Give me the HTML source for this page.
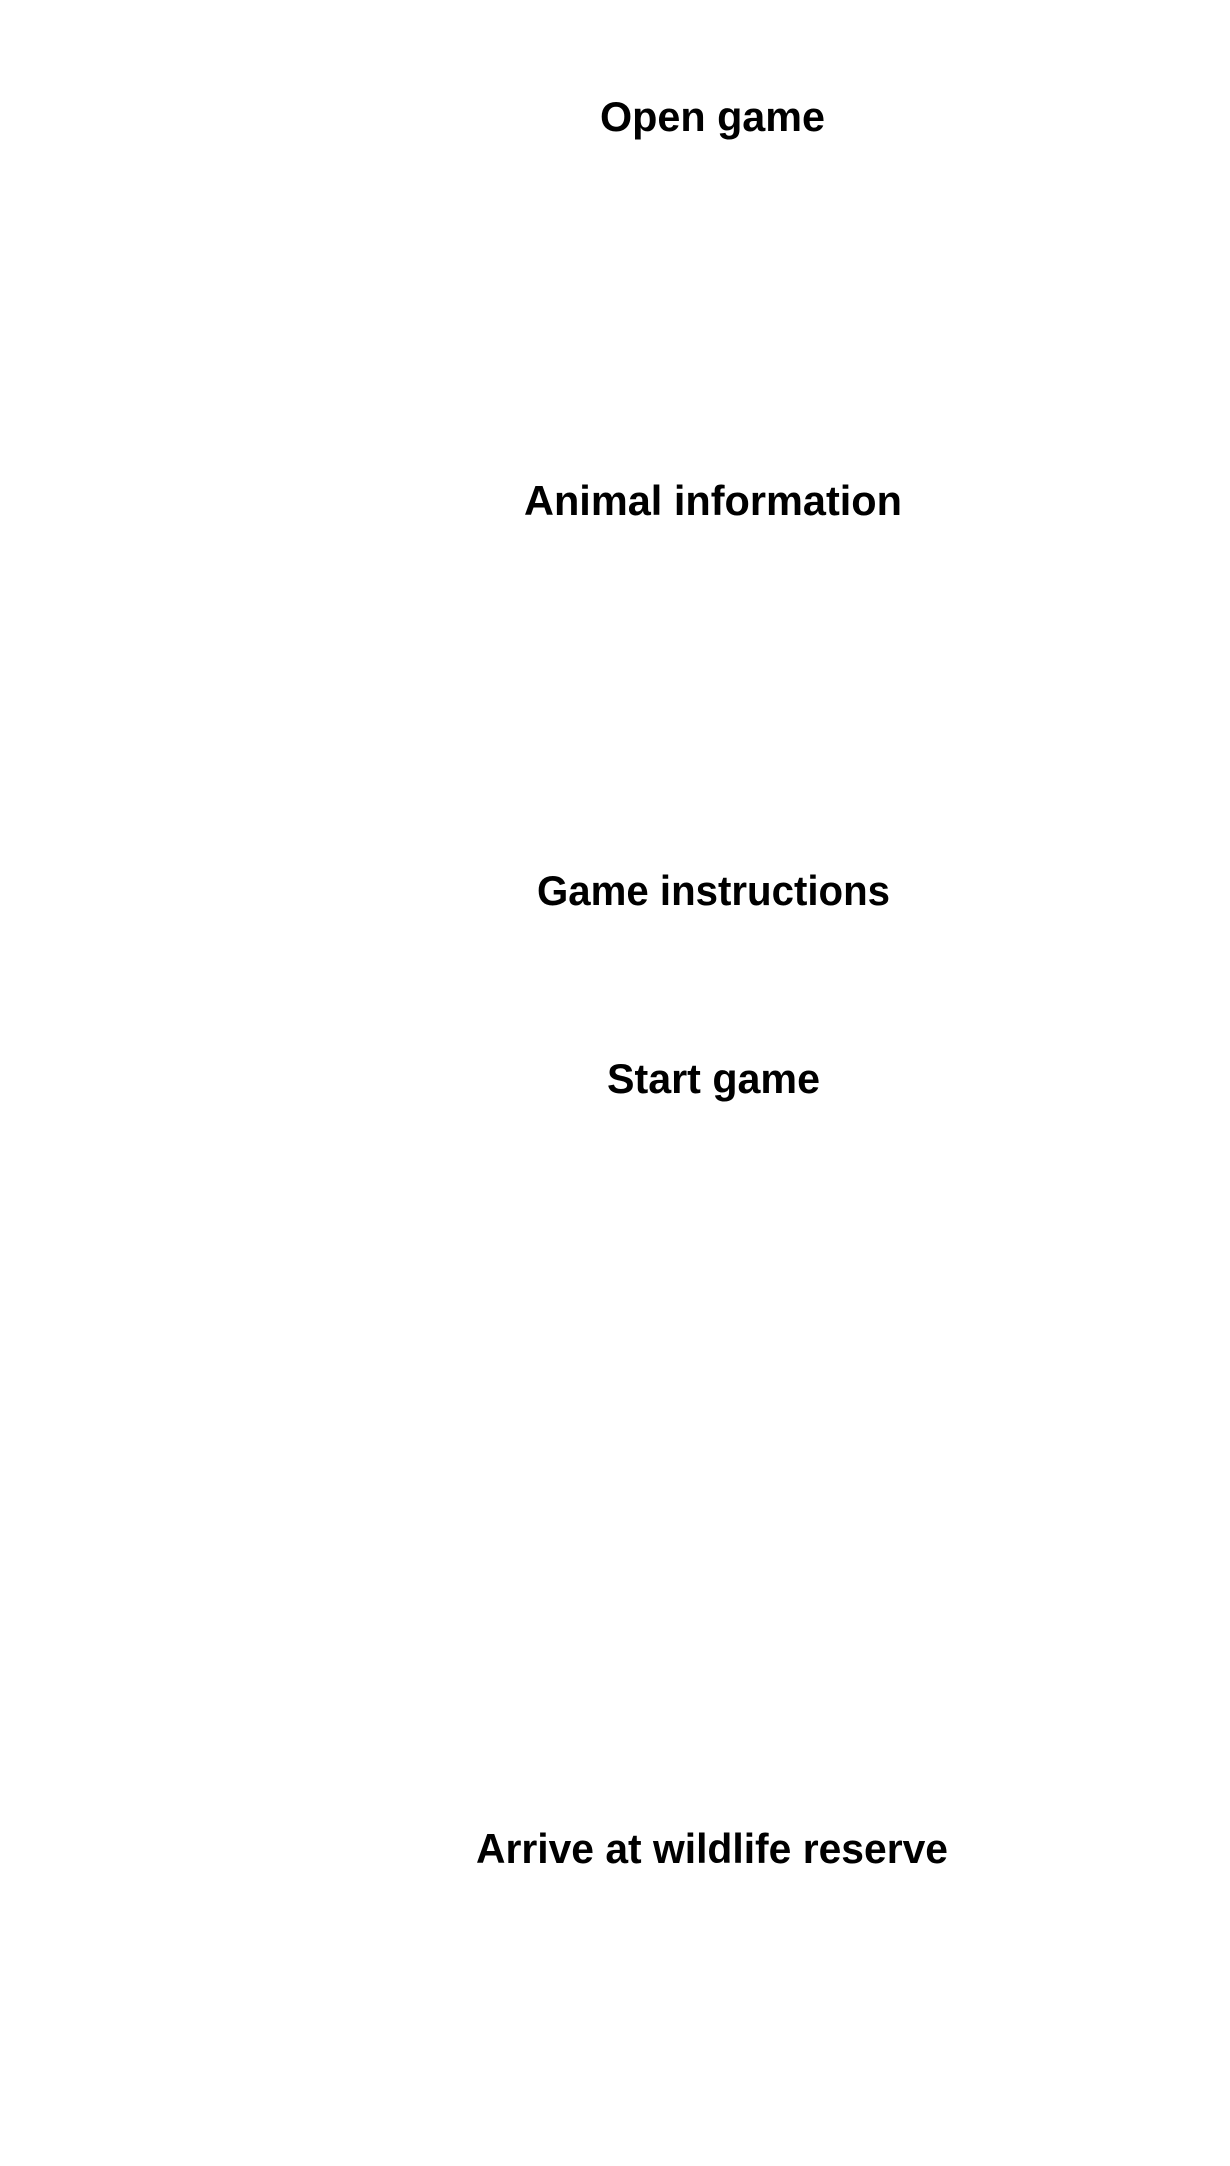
<!DOCTYPE html>
<html><head><meta charset="utf-8"><style>
html,body{margin:0;padding:0;background:#fff;}
svg{display:block;}
text{font-family:"Liberation Sans",sans-serif;font-weight:bold;font-size:42px;fill:#000;}
</style></head><body>
<svg width="1230" height="2166" viewBox="0 0 1230 2166" xmlns="http://www.w3.org/2000/svg">
<rect width="1230" height="2166" fill="#fff"/>
<text x="600" y="131" textLength="225" lengthAdjust="spacingAndGlyphs">Open game</text>
<text x="524" y="515" textLength="378" lengthAdjust="spacingAndGlyphs">Animal information</text>
<text x="537" y="905" textLength="353" lengthAdjust="spacingAndGlyphs">Game instructions</text>
<text x="607" y="1093" textLength="213" lengthAdjust="spacingAndGlyphs">Start game</text>
<text x="476" y="1863" textLength="472" lengthAdjust="spacingAndGlyphs">Arrive at wildlife reserve</text>
</svg>
</body></html>
